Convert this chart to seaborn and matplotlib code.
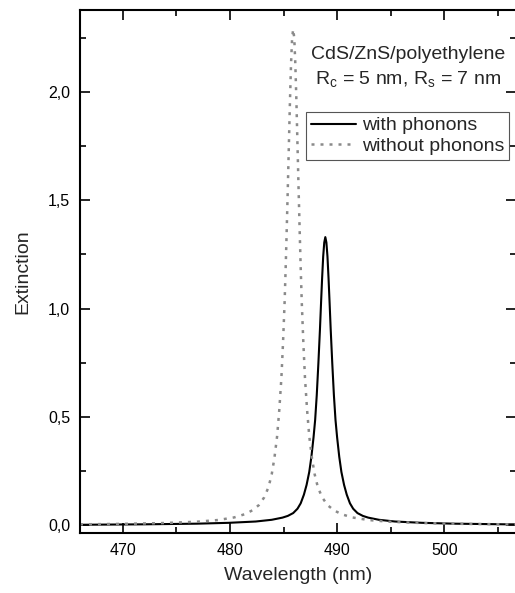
import numpy as np
import matplotlib
matplotlib.use('Agg')
import matplotlib.pyplot as plt
from matplotlib.ticker import FuncFormatter, MultipleLocator
import seaborn as sns

# with phonons (solid)
wl_with = [466, 471.9, 476.9, 479.9, 482.4, 483.9, 484.9, 485.4, 485.9, 486.3,
           486.6, 486.9, 487.15, 487.4, 487.6, 487.8, 487.95, 488.1, 488.25, 488.4,
           488.5, 488.6, 488.7, 488.8, 488.9, 489.0, 489.1, 489.2, 489.3, 489.4,
           489.55, 489.7, 489.85, 490.0, 490.2, 490.4, 490.65, 490.9, 491.2, 491.5,
           491.9, 492.4, 492.9, 493.9, 495.4, 497.9, 500.9, 505.9, 507]
ext_with = [0.001, 0.003, 0.006, 0.010, 0.016, 0.024, 0.034, 0.042, 0.055, 0.075,
            0.100, 0.140, 0.185, 0.245, 0.315, 0.405, 0.485, 0.600, 0.745, 0.905,
            1.025, 1.140, 1.240, 1.305, 1.330, 1.305, 1.240, 1.140, 1.025, 0.905,
            0.745, 0.600, 0.485, 0.405, 0.315, 0.245, 0.185, 0.140, 0.100, 0.075,
            0.055, 0.042, 0.034, 0.024, 0.016, 0.010, 0.006, 0.003, 0.003]

# without phonons (dotted)
wl_without = [466, 469.9, 473.9, 476.9, 478.9, 480.4, 481.4, 482.1, 482.7, 483.2,
              483.6, 483.9, 484.15, 484.4, 484.6, 484.8, 484.95, 485.1, 485.2, 485.3,
              485.4, 485.5, 485.6, 485.7, 485.8, 485.9, 486.0, 486.1, 486.2, 486.3,
              486.4, 486.5, 486.6, 486.7, 486.85, 487.0, 487.2, 487.4, 487.65, 487.9,
              488.2, 488.6, 489.1, 489.7, 490.4, 491.4, 492.9, 494.9, 497.9, 501.9,
              505.9, 507]
ext_without = [0.003, 0.005, 0.009, 0.015, 0.023, 0.035, 0.050, 0.068, 0.092, 0.128,
               0.175, 0.235, 0.310, 0.410, 0.530, 0.680, 0.840, 1.030, 1.190, 1.370,
               1.560, 1.760, 1.960, 2.130, 2.250, 2.290, 2.250, 2.130, 1.960, 1.760,
               1.560, 1.370, 1.190, 1.030, 0.840, 0.680, 0.530, 0.410, 0.310, 0.235,
               0.175, 0.128, 0.092, 0.068, 0.050, 0.035, 0.023, 0.015, 0.009, 0.005,
               0.003, 0.003]

sns.set_theme(style='ticks')
plt.rcParams['font.family'] = ['Liberation Sans', 'DejaVu Sans']
plt.rcParams['mathtext.fontset'] = 'custom'
plt.rcParams['mathtext.rm'] = 'Liberation Sans'

fig = plt.figure(figsize=(5.15, 5.93), dpi=100)
ax = fig.add_axes([0.1553, 0.1012, 1.002 - 0.1553, 0.9831 - 0.1012])

sns.lineplot(x=wl_with, y=ext_with, ax=ax, color='black', lw=1.5,
             label='with phonons', sort=False)
sns.lineplot(x=wl_without, y=ext_without, ax=ax, color='#8a8a8a', lw=1.8,
             label='without phonons', sort=False)
ax.lines[1].set_dashes((1.2, 2.4))

ax.set_xlim(466, 506.7)
ax.set_ylim(-0.037, 2.379)
ax.xaxis.set_major_locator(MultipleLocator(10))
ax.xaxis.set_minor_locator(MultipleLocator(5))
ax.yaxis.set_major_locator(MultipleLocator(0.5))
ax.yaxis.set_minor_locator(MultipleLocator(0.25))
ax.yaxis.set_major_formatter(FuncFormatter(lambda v, p: f'{v:.1f}'.replace('.', ',')))

ax.tick_params(which='both', direction='in', top=True, right=True, width=1.2,
               colors='black', labelsize=11.5)
ax.tick_params(which='major', length=7, pad=7)
ax.tick_params(which='minor', length=4)
for s in ax.spines.values():
    s.set_linewidth(1.5)
    s.set_color('black')

ax.set_xlabel('Wavelength (nm)', fontsize=14, labelpad=7)
ax.set_ylabel('Extinction', fontsize=14, labelpad=12)

ax.text(0.752, 0.914, 'CdS/ZnS/polyethylene', transform=ax.transAxes,
        ha='center', va='center', fontsize=14)
ax.text(0.752, 0.866, r'R$_\mathrm{c}$ = 5 nm, R$_\mathrm{s}$ = 7 nm',
        transform=ax.transAxes, ha='center', va='center', fontsize=14)

leg = ax.legend(loc='upper right', bbox_to_anchor=(0.984, 0.805), borderaxespad=0,
                fontsize=14, fancybox=False, framealpha=1, edgecolor='#555555',
                handlelength=2.3, handletextpad=0.3, borderpad=0.25,
                labelspacing=0.15)
leg.get_frame().set_linewidth(0.8)

fig.savefig('out.png', dpi=100)
